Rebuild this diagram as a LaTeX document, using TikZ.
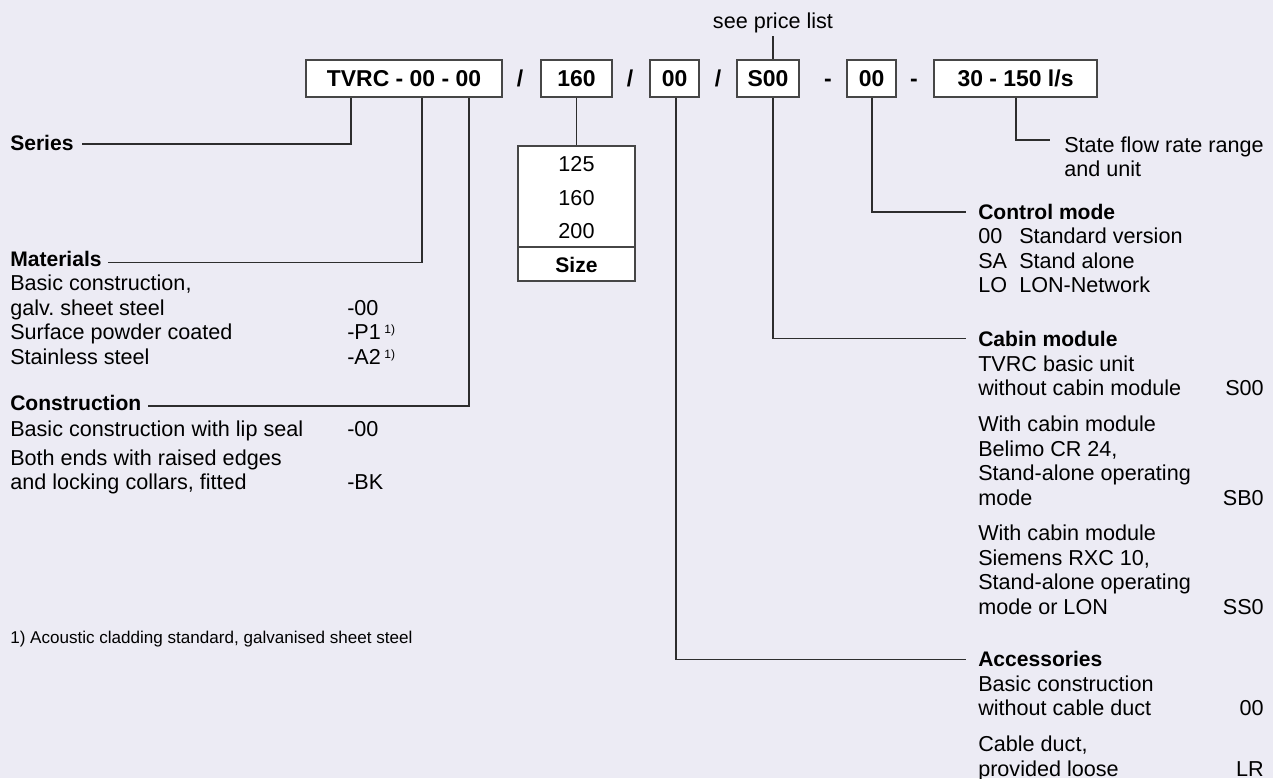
\documentclass[tikz,border=0pt]{standalone}
\usepackage{fontspec}
\setmainfont{Liberation Sans}
\frenchspacing
\definecolor{bg}{RGB}{236,235,244}
\definecolor{ln}{RGB}{45,45,45}
\definecolor{bx}{RGB}{70,70,70}
\tikzset{
  txt/.style={anchor=base west, inner sep=0pt, font=\fontsize{16.2}{19}\selectfont},
  txtr/.style={anchor=base east, inner sep=0pt, font=\fontsize{16.2}{19}\selectfont},
  txtc/.style={anchor=base, inner sep=0pt, font=\fontsize{16.2}{19}\selectfont},
  hdr/.style={anchor=base west, inner sep=0pt, font=\fontsize{15.8}{19}\bfseries},
  codebox/.style={draw=bx, fill=white, line width=1pt, minimum height=27.75pt,
    inner sep=0pt, text height=12.3pt, text depth=0pt, font=\fontsize{17.2}{20}\bfseries},
  sep/.style={inner sep=0pt, text height=12.3pt, text depth=0pt, font=\fontsize{17.2}{20}\bfseries},
  conn/.style={draw=ln, line width=1pt},
  foot/.style={anchor=base west, inner sep=0pt, font=\fontsize{12.8}{15}\selectfont}
}
\newcommand{\fnm}{\,\raisebox{4.6pt}{\fontsize{9}{10}\selectfont 1)}}
\begin{document}
\begin{tikzpicture}[x=0.75pt,y=-0.75pt]
\fill[bg] (0,0) rectangle (1273,778);
\useasboundingbox (0,0) rectangle (1273,778);

% ---- top row of code boxes ----
\node[codebox, minimum width=147pt]   (A) at (404,78.5) {TVRC - 00 - 00};
\node[sep] (s1) at (520,78.5) {/};
\node[codebox, minimum width=53.25pt] (B) at (576.5,78.5) {160};
\node[sep] (s2) at (630,78.5) {/};
\node[codebox, minimum width=36.75pt] (C) at (674.5,78.5) {00};
\node[sep] (s3) at (718,78.5) {/};
\node[codebox, minimum width=46.5pt]  (D) at (768,78.5) {S00};
\node[sep] (s4) at (828,78.5) {-};
\node[codebox, minimum width=36.75pt] (E) at (871.5,78.5) {00};
\node[sep] (s5) at (914,78.5) {-};
\node[codebox, minimum width=122.25pt] (F) at (1015.5,78.5) {30 - 150 l/s};

% ---- see price list ----
\node[txtc] (price) at (773,28) {see price list};
\coordinate (pr) at (773,36);
\draw[conn] (pr) -- (D.north -| pr);

% ---- size table ----
\node[draw=bx, fill=white, line width=1pt, minimum width=87.75pt, minimum height=101.25pt, inner sep=0pt] (S) at (576.5,213.5) {};
\coordinate (sl) at (518,247);
\draw[draw=bx, line width=1pt] (sl -| S.west) -- (sl -| S.east);
\node[txtc] (z1) at (576.5,171.5) {125};
\node[txtc] (z2) at (576.5,205) {160};
\node[txtc] (z3) at (576.5,238.5) {200};
\node[txtc, font=\fontsize{15.8}{19}\bfseries] (z4) at (576.5,272.5) {Size};
\draw[conn] (B.south -| S.north) -- (S.north);

% ---- left side ----
\node[hdr] (series) at (10,150.7) {Series};
\coordinate (ser0) at (82,144);
\coordinate (ser1) at (351,144);
\draw[conn] (ser0) -- (ser1) -- (A.south -| ser1);

\node[hdr] (mat) at (10,266.7) {Materials};
\coordinate (mat0) at (108,262.7);
\coordinate (mat1) at (422,262.7);
\draw[conn] (mat0) -- (mat1) -- (A.south -| mat1);
\node[txt] (m1) at (10,290) {Basic construction,};
\node[txt] (m2) at (10,315) {galv. sheet steel};
\node[txt] (m2c) at (347,315) {-00};
\node[txt] (m3) at (10,339.5) {Surface powder coated};
\node[txt] (m3c) at (347,339.5) {-P1\fnm};
\node[txt] (m4) at (10,364.5) {Stainless steel};
\node[txt] (m4c) at (347,364.5) {-A2\fnm};

\node[hdr] (con) at (10,410) {Construction};
\coordinate (con0) at (148,406);
\coordinate (con1) at (469,406);
\draw[conn] (con0) -- (con1) -- (A.south -| con1);
\node[txt] (c1) at (10,436) {Basic construction with lip seal};
\node[txt] (c1c) at (347,436) {-00};
\node[txt] (c2) at (10,465) {Both ends with raised edges};
\node[txt] (c3) at (10,489) {and locking collars, fitted};
\node[txt] (c3c) at (347,489) {-BK};

\node[foot] (fn) at (10,643) {1) Acoustic cladding standard, galvanised sheet steel};

% ---- flow rate ----
\coordinate (fl0) at (1016,140);
\coordinate (fl1) at (1050,140);
\draw[conn] (F.south -| fl0) -- (fl0) -- (fl1);
\node[txt] (fr1) at (1064,152) {State flow rate range};
\node[txt] (fr2) at (1064,176) {and unit};

% ---- control mode ----
\coordinate (cm0) at (872,212);
\coordinate (cm1) at (966,212);
\draw[conn] (E.south -| cm0) -- (cm0) -- (cm1);
\node[hdr] (cm) at (978,219.3) {Control mode};
\node[txt] (cma) at (978,243.5) {00};
\node[txt] (cmat) at (1019,243.5) {Standard version};
\node[txt] (cmb) at (978,268) {SA};
\node[txt] (cmbt) at (1019,268) {Stand alone};
\node[txt] (cmc) at (978,292.5) {LO};
\node[txt] (cmct) at (1019,292.5) {LON-Network};

% ---- cabin module ----
\coordinate (cb0) at (773,338.5);
\coordinate (cb1) at (966,338.5);
\draw[conn] (D.south -| cb0) -- (cb0) -- (cb1);
\node[hdr] (cab) at (978,346) {Cabin module};
\node[txt] (cab1) at (978,371) {TVRC basic unit};
\node[txt] (cab2) at (978,395.5) {without cabin module};
\node[txtr] (cab2c) at (1264,395.5) {S00};
\node[txt] (cab3) at (978,431.5) {With cabin module};
\node[txt] (cab4) at (978,456) {Belimo CR 24,};
\node[txt] (cab5) at (978,480.5) {Stand-alone operating};
\node[txt] (cab6) at (978,505) {mode};
\node[txtr] (cab6c) at (1264,505) {SB0};
\node[txt] (cab7) at (978,540.5) {With cabin module};
\node[txt] (cab8) at (978,565) {Siemens RXC 10,};
\node[txt] (cab9) at (978,589.5) {Stand-alone operating};
\node[txt] (cab10) at (978,614) {mode or LON};
\node[txtr] (cab10c) at (1264,614) {SS0};

% ---- accessories ----
\coordinate (ac0) at (676,659.3);
\coordinate (ac1) at (966,659.3);
\draw[conn] (C.south -| ac0) -- (ac0) -- (ac1);
\node[hdr] (acc) at (978,666.5) {Accessories};
\node[txt] (acc1) at (978,691) {Basic construction};
\node[txt] (acc2) at (978,715.5) {without cable duct};
\node[txtr] (acc2c) at (1264,715.5) {00};
\node[txt] (acc3) at (978,751.5) {Cable duct,};
\node[txt] (acc4) at (978,776) {provided loose};
\node[txtr] (acc4c) at (1264,776) {LR};
\end{tikzpicture}
\end{document}
